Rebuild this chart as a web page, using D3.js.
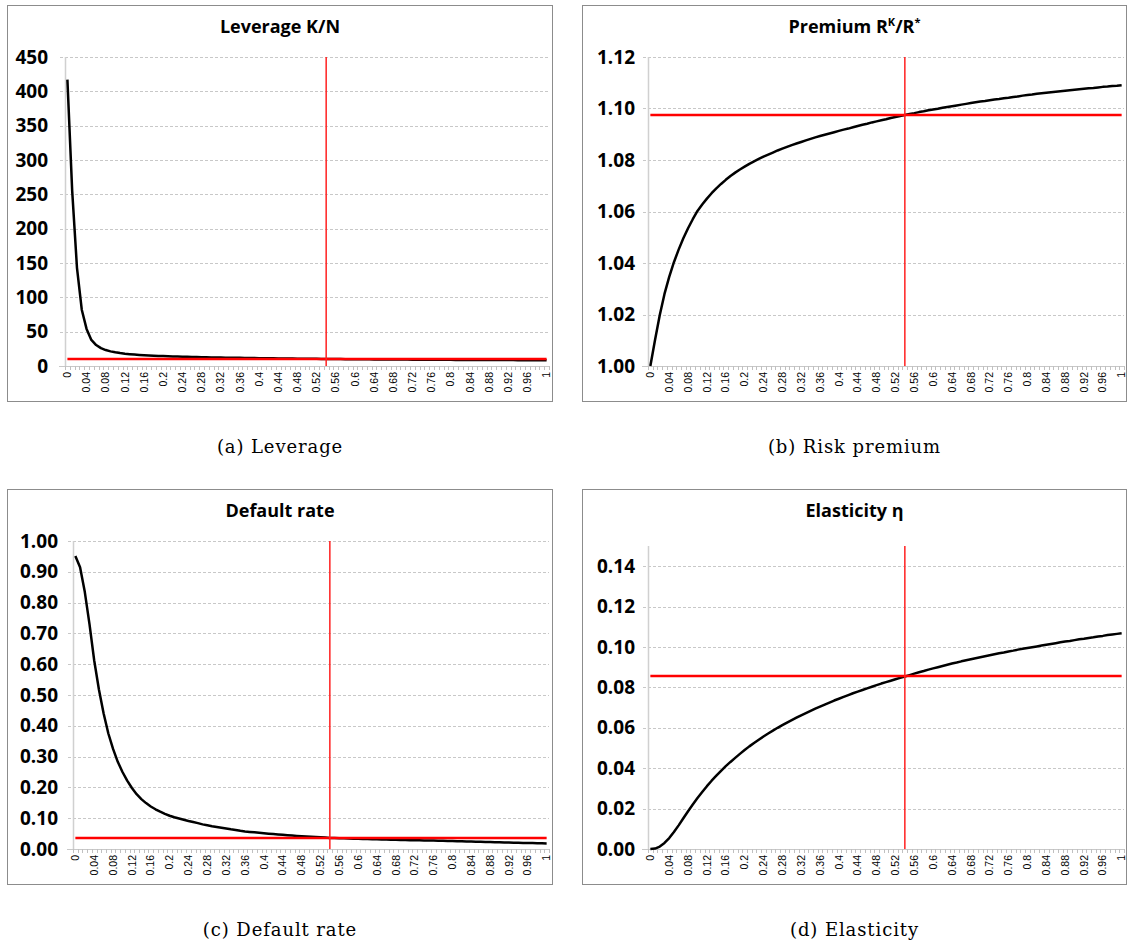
<!DOCTYPE html>
<html>
<head>
<meta charset="utf-8">
<script src="https://cdn.jsdelivr.net/npm/d3@7"></script>
<style>
body { margin: 0; background: #fff; }
</style>
</head>
<body>
<svg id="drawing_region"></svg>
<script>
// x categories (0 .. 1 step 0.01)
const categories = [
    0, 0.01, 0.02, 0.03, 0.04, 0.05, 0.06, 0.07, 0.08, 0.09,
    0.1, 0.11, 0.12, 0.13, 0.14, 0.15, 0.16, 0.17, 0.18, 0.19,
    0.2, 0.21, 0.22, 0.23, 0.24, 0.25, 0.26, 0.27, 0.28, 0.29,
    0.3, 0.31, 0.32, 0.33, 0.34, 0.35, 0.36, 0.37, 0.38, 0.39,
    0.4, 0.41, 0.42, 0.43, 0.44, 0.45, 0.46, 0.47, 0.48, 0.49,
    0.5, 0.51, 0.52, 0.53, 0.54, 0.55, 0.56, 0.57, 0.58, 0.59,
    0.6, 0.61, 0.62, 0.63, 0.64, 0.65, 0.66, 0.67, 0.68, 0.69,
    0.7, 0.71, 0.72, 0.73, 0.74, 0.75, 0.76, 0.77, 0.78, 0.79,
    0.8, 0.81, 0.82, 0.83, 0.84, 0.85, 0.86, 0.87, 0.88, 0.89,
    0.9, 0.91, 0.92, 0.93, 0.94, 0.95, 0.96, 0.97, 0.98, 0.99,
    1
];
const labelledCategories = [0, 0.04, 0.08, 0.12, 0.16, 0.2, 0.24, 0.28, 0.32, 0.36, 0.4, 0.44, 0.48,
    0.52, 0.56, 0.6, 0.64, 0.68, 0.72, 0.76, 0.8, 0.84, 0.88, 0.92, 0.96, 1];
const steadyCategory = 0.54;

const leverage = [
    417, 255, 143, 82, 54, 38, 30.5, 26, 23.2, 21.3,
    19.9, 18.8, 17.9, 17.2, 16.6, 16.1, 15.7, 15.3, 15.0, 14.7,
    14.4, 14.2, 13.95, 13.75, 13.55, 13.35, 13.2, 13.0, 12.85, 12.7,
    12.55, 12.42, 12.3, 12.18, 12.06, 11.95, 11.84, 11.73, 11.63, 11.53,
    11.43, 11.33, 11.24, 11.15, 11.06, 10.97, 10.88, 10.8, 10.72, 10.64,
    10.56, 10.48, 10.4, 10.32, 10.25, 10.18, 10.11, 10.04, 9.98, 9.92,
    9.86, 9.8, 9.74, 9.68, 9.63, 9.58, 9.53, 9.48, 9.43, 9.38,
    9.34, 9.3, 9.26, 9.22, 9.18, 9.14, 9.1, 9.06, 9.02, 8.98,
    8.95, 8.92, 8.89, 8.86, 8.83, 8.8, 8.77, 8.74, 8.71, 8.68,
    8.65, 8.62, 8.59, 8.57, 8.55, 8.53, 8.51, 8.49, 8.47, 8.45,
    8.43
];
const leverageSteady = 10.25;
const leverageTicks = [0, 50, 100, 150, 200, 250, 300, 350, 400, 450];

const premium = [
    1.0000, 1.0102, 1.0198, 1.0280, 1.0346, 1.0403, 1.0452, 1.0496, 1.0535, 1.0570,
    1.0602, 1.0627, 1.0650, 1.0671, 1.0690, 1.0707, 1.0723, 1.0738, 1.0751, 1.0763,
    1.0774, 1.0785, 1.0795, 1.0804, 1.0813, 1.0821, 1.0829, 1.0837, 1.0844, 1.0851,
    1.0858, 1.0864, 1.0870, 1.0876, 1.0882, 1.0888, 1.0893, 1.0898, 1.0903, 1.0908,
    1.0913, 1.0918, 1.0922, 1.0927, 1.0932, 1.0937, 1.0941, 1.0946, 1.0950, 1.0954,
    1.0958, 1.0963, 1.0967, 1.0971, 1.0975, 1.0979, 1.0982, 1.0986, 1.0989, 1.0993,
    1.0996, 1.0999, 1.1003, 1.1006, 1.1009, 1.1012, 1.1015, 1.1018, 1.1021, 1.1024,
    1.1027, 1.1029, 1.1032, 1.1035, 1.1037, 1.1040, 1.1042, 1.1045, 1.1047, 1.1050,
    1.1052, 1.1054, 1.1057, 1.1059, 1.1061, 1.1063, 1.1065, 1.1067, 1.1069, 1.1071,
    1.1073, 1.1075, 1.1077, 1.1079, 1.1080, 1.1082, 1.1084, 1.1085, 1.1087, 1.1088,
    1.1090
];
const premiumSteady = 1.0975;
const premiumTicks = [1.00, 1.02, 1.04, 1.06, 1.08, 1.10, 1.12];

const defaultRate = [
    0.951, 0.915, 0.835, 0.73, 0.612, 0.518, 0.44, 0.375, 0.325, 0.283,
    0.25, 0.222, 0.198, 0.178, 0.162, 0.149, 0.138, 0.129, 0.121, 0.114,
    0.108, 0.103, 0.099, 0.095, 0.091, 0.0875, 0.084, 0.080, 0.077, 0.074,
    0.0715, 0.069, 0.0665, 0.064, 0.062, 0.059, 0.057, 0.0555, 0.054, 0.0525,
    0.051, 0.0497, 0.0484, 0.0472, 0.046, 0.0447, 0.0435, 0.0423, 0.0412, 0.0403,
    0.0395, 0.0387, 0.038, 0.037, 0.036, 0.0355, 0.035, 0.0345, 0.034, 0.0335,
    0.033, 0.0326, 0.0322, 0.0318, 0.0314, 0.031, 0.0306, 0.0302, 0.0298, 0.0294,
    0.029, 0.0287, 0.0284, 0.0281, 0.0278, 0.0275, 0.0272, 0.0268, 0.0264, 0.026,
    0.0256, 0.0252, 0.0248, 0.0244, 0.024, 0.0236, 0.0232, 0.0228, 0.0224, 0.022,
    0.0216, 0.0212, 0.0208, 0.0204, 0.02, 0.0197, 0.0194, 0.0191, 0.0188, 0.0185,
    0.0182
];
const defaultSteady = 0.036;
const defaultTicks = [0, 0.1, 0.2, 0.3, 0.4, 0.5, 0.6, 0.7, 0.8, 0.9, 1.0];

const elasticity = [
    0.0000, 0.0002, 0.0012, 0.0030, 0.0054, 0.0084, 0.0117, 0.0152, 0.0187, 0.0220,
    0.0252, 0.0282, 0.0311, 0.0338, 0.0363, 0.0387, 0.0410, 0.0431, 0.0451, 0.0471,
    0.0490, 0.0508, 0.0525, 0.0541, 0.0557, 0.0572, 0.0586, 0.0600, 0.0613, 0.0626,
    0.0638, 0.0650, 0.0662, 0.0673, 0.0684, 0.0695, 0.0705, 0.0715, 0.0725, 0.0735,
    0.0744, 0.0753, 0.0762, 0.0771, 0.0779, 0.0787, 0.0795, 0.0803, 0.0811, 0.0819,
    0.0826, 0.0833, 0.0840, 0.0847, 0.0854, 0.0861, 0.0868, 0.0875, 0.0881, 0.0888,
    0.0894, 0.0900, 0.0906, 0.0912, 0.0918, 0.0923, 0.0929, 0.0934, 0.0939, 0.0944,
    0.0949, 0.0954, 0.0959, 0.0964, 0.0969, 0.0973, 0.0978, 0.0982, 0.0987, 0.0991,
    0.0995, 0.0999, 0.1003, 0.1007, 0.1011, 0.1015, 0.1019, 0.1023, 0.1027, 0.1030,
    0.1034, 0.1038, 0.1041, 0.1045, 0.1048, 0.1052, 0.1055, 0.1059, 0.1062, 0.1065,
    0.1068
];
const elasticitySteady = 0.0856;
const elasticityTicks = [0, 0.02, 0.04, 0.06, 0.08, 0.10, 0.12, 0.14];


class LineChart {
    constructor(config, data) {
        this.config = config;
        this.data = data;
        this.init();
    }

    init() {
        const self = this;
        const c = self.config;

        self.inner_width = c.width - c.margin.left - c.margin.right;
        self.inner_height = c.height - c.margin.top - c.margin.bottom;

        self.frame = d3.select(c.parent).append("g")
            .attr("transform", `translate(${c.x}, ${c.y})`);

        // panel border (drawn first so everything sits on top)
        self.frame.append("rect")
            .attr("x", 0.5)
            .attr("y", 0.5)
            .attr("width", c.width - 1)
            .attr("height", c.height - 1)
            .attr("fill", "white")
            .attr("stroke", "#8c8c8c")
            .attr("stroke-width", 1);

        self.chart = self.frame.append("g")
            .attr("transform", `translate(${c.margin.left}, ${c.margin.top})`);

        self.xscale = d3.scaleBand()
            .domain(self.data.categories)
            .range([0, self.inner_width]);

        self.yscale = d3.scaleLinear()
            .domain(c.ydomain)
            .range([self.inner_height, 0]);

        self.line = d3.line()
            .x((d, i) => self.xc(self.data.categories[i]))
            .y(d => self.yscale(d));
    }

    xc(v) {
        return this.xscale(v) + this.xscale.bandwidth() / 2;
    }

    update() {
        this.render();
    }

    render() {
        const self = this;
        const c = self.config;
        const h = self.inner_height;
        const w = self.inner_width;

        // title
        const title = self.frame.append("text")
            .attr("x", c.width / 2)
            .attr("y", 28)
            .attr("text-anchor", "middle")
            .attr("font-family", "'Open Sans', sans-serif")
            .attr("font-weight", "bold")
            .attr("font-size", "18px")
            .attr("fill", "#000");
        c.title.forEach(part => {
            const t = title.append("tspan").text(part.text);
            if (part.sup) {
                t.attr("font-size", "11px").attr("baseline-shift", "super");
            }
        });

        // gridlines
        self.chart.selectAll(".grid")
            .data(c.yticks.filter(d => d !== c.ydomain[0]))
            .enter()
            .append("line")
            .attr("x1", -5)
            .attr("x2", w)
            .attr("y1", d => Math.round(self.yscale(d)) + 0.5)
            .attr("y2", d => Math.round(self.yscale(d)) + 0.5)
            .attr("stroke", "#c8c8c8")
            .attr("stroke-dasharray", "3,2")
            .attr("stroke-width", 1);

        // y axis
        const yaxis = d3.axisLeft(self.yscale)
            .tickValues(c.yticks)
            .tickSize(0)
            .tickPadding(c.ypad)
            .tickFormat(d3.format(c.yformat));
        const yg = self.chart.append("g").call(yaxis);
        yg.select(".domain").remove();
        yg.selectAll("text")
            .attr("font-family", "'Open Sans', sans-serif")
            .attr("font-weight", "bold")
            .attr("font-size", "19px")
            .attr("fill", "#000");

        self.chart.append("line")
            .attr("x1", 0.5).attr("x2", 0.5)
            .attr("y1", 0).attr("y2", h)
            .attr("stroke", "#d0d0d0")
            .attr("stroke-width", 1.5);

        // x axis line and category ticks
        self.chart.append("line")
            .attr("x1", -6).attr("x2", w)
            .attr("y1", h + 0.5).attr("y2", h + 0.5)
            .attr("stroke", "#c8c8c8")
            .attr("stroke-width", 1);

        const boundaries = self.data.categories.map(d => self.xscale(d)).concat([w]);
        self.chart.selectAll(".xtick")
            .data(boundaries)
            .enter()
            .append("line")
            .attr("x1", d => Math.round(d) + 0.5)
            .attr("x2", d => Math.round(d) + 0.5)
            .attr("y1", h)
            .attr("y2", h + 4)
            .attr("stroke", "#c0c0c0")
            .attr("stroke-width", 1);

        const xaxis = d3.axisBottom(self.xscale)
            .tickValues(self.data.labelled)
            .tickSize(0)
            .tickFormat(d => String(d));
        const xg = self.chart.append("g")
            .attr("transform", `translate(0, ${h})`)
            .call(xaxis);
        xg.select(".domain").remove();
        xg.selectAll("text")
            .attr("transform", "rotate(-90)")
            .attr("text-anchor", "end")
            .attr("x", -6)
            .attr("y", 0)
            .attr("dy", "0.35em")
            .attr("font-family", "'Liberation Sans', Arial, sans-serif")
            .attr("font-size", "10.5px")
            .attr("fill", "#000");

        // series
        self.chart.append("path")
            .datum(self.data.values)
            .attr("d", self.line)
            .attr("fill", "none")
            .attr("stroke", "#000")
            .attr("stroke-width", 2.5)
            .attr("stroke-linejoin", "round");

        const cats = self.data.categories;
        self.chart.append("line")
            .attr("x1", self.xc(cats[0]))
            .attr("x2", self.xc(cats[cats.length - 1]))
            .attr("y1", self.yscale(self.data.steady))
            .attr("y2", self.yscale(self.data.steady))
            .attr("stroke", "#ff0000")
            .attr("stroke-width", 2.5);

        self.chart.append("line")
            .attr("x1", self.xc(self.data.steadyCategory))
            .attr("x2", self.xc(self.data.steadyCategory))
            .attr("y1", 0)
            .attr("y2", h)
            .attr("stroke", "#ff2020")
            .attr("stroke-width", 1.5);

        // caption under the panel
        d3.select(c.parent).append("text")
            .attr("x", c.x + c.width / 2)
            .attr("y", c.y + c.height + 51)
            .attr("text-anchor", "middle")
            .attr("font-family", "'DejaVu Serif', 'Liberation Serif', serif")
            .attr("font-size", "18px")
            .attr("letter-spacing", "0.9px")
            .attr("fill", "#000")
            .text(c.caption);
    }
}

d3.select("#drawing_region")
    .attr("width", 1127)
    .attr("height", 945);

const panels = [
    {
        config: {
            x: 7, y: 5, width: 546, height: 397,
            margin: { left: 58, top: 52, right: 4, bottom: 36 },
            ydomain: [0, 450], yticks: leverageTicks, yformat: "d", ypad: 17,
            title: [{ text: "Leverage K/N" }],
            caption: "(a) Leverage"
        },
        values: leverage, steady: leverageSteady
    },
    {
        config: {
            x: 582, y: 5, width: 545, height: 397,
            margin: { left: 66, top: 52, right: 3, bottom: 36 },
            ydomain: [1.00, 1.12], yticks: premiumTicks, yformat: ".2f", ypad: 13,
            title: [{ text: "Premium R" }, { text: "K", sup: true }, { text: "/R" }, { text: "*", sup: true }],
            caption: "(b) Risk premium"
        },
        values: premium, steady: premiumSteady
    },
    {
        config: {
            x: 7, y: 489, width: 546, height: 396,
            margin: { left: 66, top: 52, right: 4, bottom: 36 },
            ydomain: [0, 1.0], yticks: defaultTicks, yformat: ".2f", ypad: 15,
            title: [{ text: "Default rate" }],
            caption: "(c) Default rate"
        },
        values: defaultRate, steady: defaultSteady
    },
    {
        config: {
            x: 582, y: 489, width: 545, height: 396,
            margin: { left: 66, top: 57, right: 3, bottom: 36 },
            ydomain: [0, 0.15], yticks: elasticityTicks, yformat: ".2f", ypad: 13,
            title: [{ text: "Elasticity η" }],
            caption: "(d) Elasticity"
        },
        values: elasticity, steady: elasticitySteady
    }
];

panels.forEach(p => {
    p.config.parent = "#drawing_region";
    const chart = new LineChart(p.config, {
        categories: categories,
        labelled: labelledCategories,
        steadyCategory: steadyCategory,
        values: p.values,
        steady: p.steady
    });
    chart.update();
});
</script>
</body>
</html>
